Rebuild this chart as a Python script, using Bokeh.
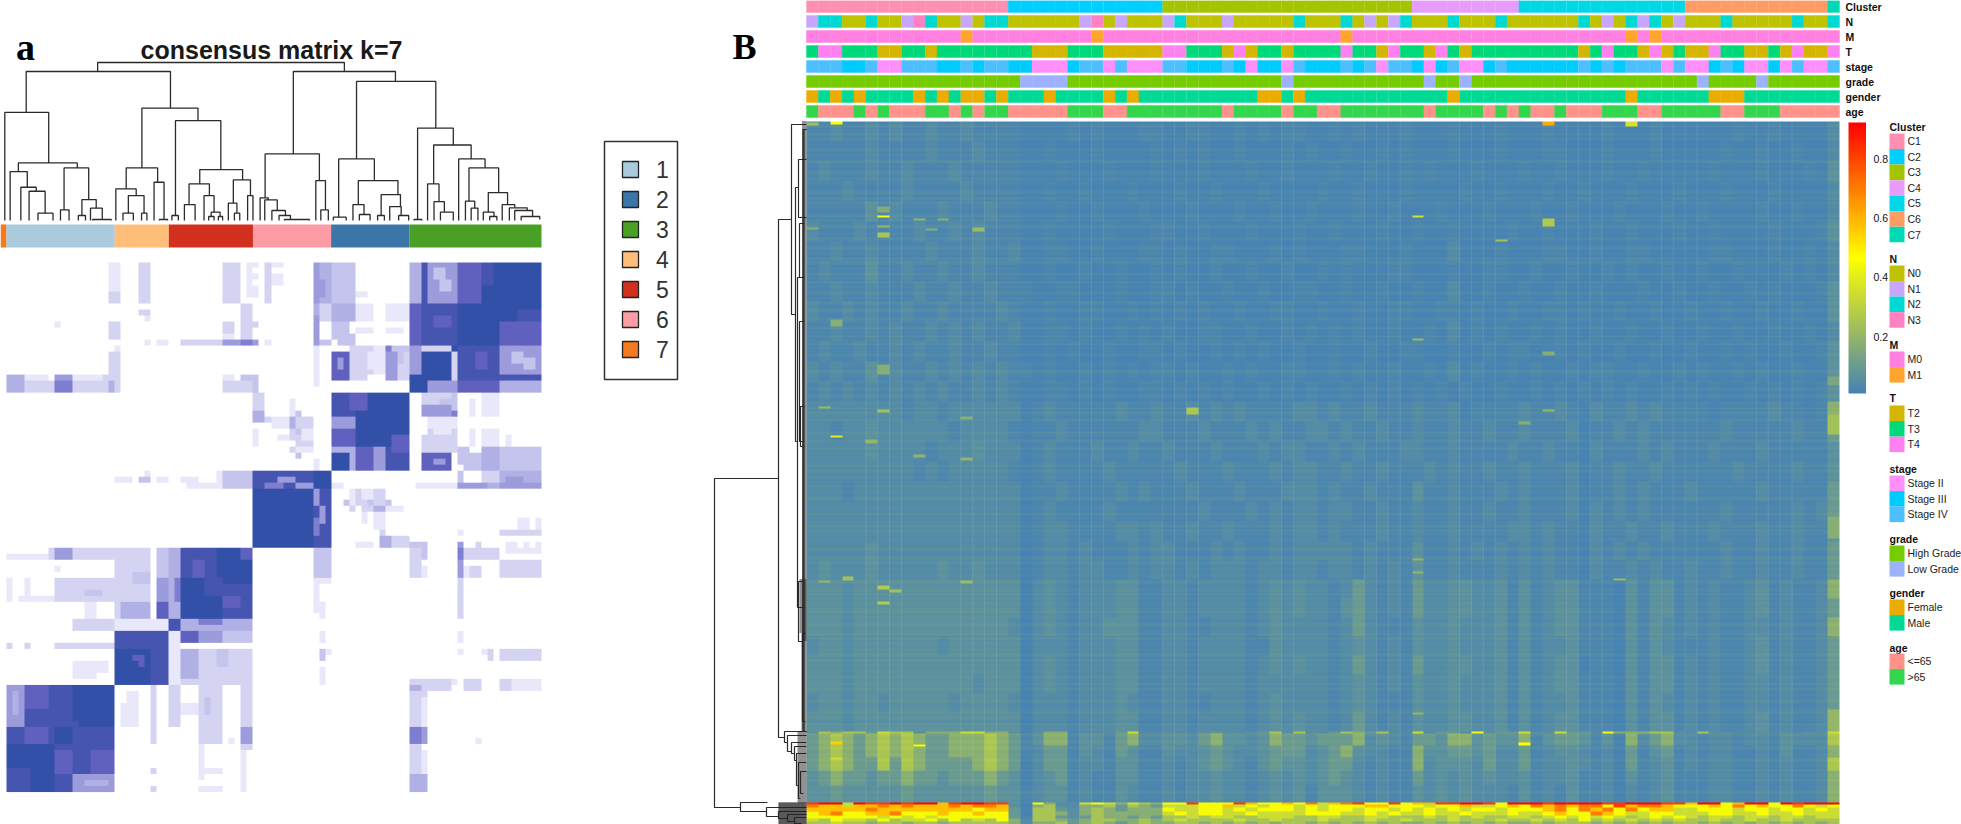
import numpy as np
from bokeh.plotting import figure
from bokeh.models import Range1d, LinearColorMapper
from bokeh.core.properties import value
from bokeh.embed import file_html
from bokeh.resources import INLINE

W, H = 1961, 824
SANS, SERIF = "Liberation Sans", "Liberation Serif"

# ---------------- panel a data ----------------
cluster_ids = ["7", "1", "4", "5", "6", "2", "3"]
cluster_sizes = [1, 18, 9, 14, 13, 13, 22]
cluster_colors = ["#F47A1F", "#A9CBDD", "#FEBE7A", "#D1301F", "#FD9CA5", "#3B76A9", "#4AA025"]
legend_a_labels = ["1", "2", "3", "4", "5", "6", "7"]
legend_a_colors = ["#A9CBDD", "#3B76A9", "#4AA025", "#FEBE7A", "#D1301F", "#FD9CA5", "#F47A1F"]
consensus_palette = ["#FFFFFF", "#E8E8FA", "#D4D4F2", "#C4C4EC", "#B0B0E4", "#9C9CDC", "#7E7ED0", "#6060BE", "#4656B0", "#3350A8"]

# (col0, col1, row0, row1, level 0-9); row 0 is the top row, mirrored across the block diagonal
consensus_patches = [
    (68,90,0,22,9),(55,68,22,35,9),(42,55,35,48,9),(28,42,48,62,8),(19,28,62,71,9),(1,19,71,89,8),
    # block 3
    (76,80,0,14,8),(78,80,0,7,7),(76,80,7,14,9),(83,90,10,14,7),(86,90,8,10,8),
    (71,76,0,7,3),(72,75,1,2,5),(73,75,4,5,7),(72,73,3,6,5),(70,71,0,7,8),(68,70,0,7,4),
    (68,76,7,10,7),(68,76,10,14,8),(70,72,8,9,6),(68,70,14,19,4),(70,76,14,20,9),(75,76,15,20,2),
    (76,83,14,20,8),(79,81,15,18,7),(83,90,14,19,5),(85,87,15,17,3),(87,89,16,18,3),(83,90,19,20,8),
    (76,83,20,22,7),(70,76,20,22,5),(83,90,20,22,4),(68,70,19,22,9),
    # block 2
    (55,58,22,26,7),(55,57,27,30,5),(57,58,26,27,7),(55,58,30,31,4),(55,58,31,35,9),(58,59,31,35,4),
    (59,62,31,35,7),(62,64,31,35,5),(64,68,31,35,8),(58,61,22,25,7),
    # block 6
    (42,44,35,38,5),(44,52,35,38,7),(46,50,36,37,5),(52,55,38,48,8),(52,53,38,41,5),(52,53,43,46,6),(53,54,41,44,5),
    # block 5
    (37,42,48,50,7),(30,37,48,56,8),(37,42,50,54,9),(30,37,56,60,9),(30,42,60,62,4),(33,37,60,61,6),(32,34,50,53,7),
    # block 4
    (25,26,65,71,6),(19,25,62,65,8),(25,28,62,65,8),(22,24,66,67,7),
    # block 1
    (1,2,71,73,6),(2,4,71,76,5),(4,9,71,75,7),(9,12,73,77,7),(12,19,77,82,8),(12,19,71,77,9),
    (9,12,78,81,9),(1,9,81,85,9),(12,19,86,89,5),(14,18,87,88,4),(5,8,79,80,6),(9,12,82,86,7),
    # pale columns beside block 3
    (19,20,0,2,1),(19,20,3,6,1),(23,25,0,7,2),(37,39,0,7,2),(39,40,0,7,1),(42,43,0,1,1),(42,43,2,3,1),(42,43,4,6,1),
    (44,45,0,7,2),(45,47,0,1,1),(45,47,2,4,1),(52,53,0,7,6),(53,55,0,3,4),(53,55,3,7,3),(55,58,0,3,3),(55,58,3,7,3),(56,57,1,2,5),
    (52,53,7,10,2),(55,58,7,10,5),(56,58,9,10,7),(59,62,7,10,1),(64,68,7,10,1),(64,65,9,10,2),(23,25,8,9,2),(24,25,9,10,1),
    (9,10,10,11,1),(19,20,10,12,1),(37,39,10,12,2),(37,39,12,14,1),(40,43,10,11,2),(41,42,12,13,2),(52,53,10,13,2),
    (55,58,10,13,3),(59,62,11,12,1),(64,67,11,12,1),
    (24,25,13,14,1),(26,28,13,14,1),(30,31,13,14,4),(31,37,13,14,2),(37,39,13,14,7),(39,43,13,14,5),(44,45,13,14,1),(52,55,13,14,3),
    (19,20,14,20,1),(52,53,14,19,1),(52,53,18,19,2),(58,62,14,19,2),(60,61,16,18,1),(62,64,14,19,1),(64,65,14,19,6),(65,68,14,19,3),(65,68,16,17,4),
    (1,4,19,22,4),(4,8,19,22,1),(7,8,20,21,2),(9,12,19,22,5),(9,10,20,21,7),(12,17,19,22,1),(17,20,19,22,2),(37,39,19,22,1),(40,43,19,22,3),(52,53,20,21,1),
    # beside block 2
    (70,75,22,24,2),(73,75,23,24,3),(70,75,24,26,5),(72,75,27,29,1),(70,75,29,33,2),(70,75,32,35,7),(72,74,33,34,5),(76,78,31,34,3),(80,83,22,26,1),(80,83,31,35,4),(83,90,31,34,3),
    (80,83,29,31,1),(78,79,24,26,1),(84,85,29,31,1),
    (42,44,22,25,2),(42,44,25,27,4),(44,52,26,27,2),(49,50,25,33,3),(50,52,26,27,2),(46,49,29,30,1),(42,43,28,31,1),(49,52,29,31,2),(52,53,33,35,1),
    # beside block 6
    (76,77,35,38,3),(80,83,35,38,2),(83,90,35,37,4),(76,90,37,38,5),(70,76,37,38,1),(84,87,36,37,5),(81,83,37,38,4),
    (19,22,36,37,1),(23,25,36,37,3),(24,25,35,36,1),(26,28,36,37,1),(30,33,36,37,2),(37,40,36,37,4),(37,40,35,36,2),(37,40,37,38,1),
    (58,59,38,41,1),(60,62,38,40,1),(62,64,38,42,2),(58,59,41,42,2),(60,62,41,42,2),(62,64,41,42,4),(64,66,41,42,1),(66,67,41,42,1),(62,64,42,45,1),
    # beside block 5
    (68,70,48,53,2),(76,77,48,50,6),(76,77,50,53,5),(76,77,53,60,2),(77,83,48,50,2),(83,90,50,53,2),(84,90,48,49,1),
    (52,55,48,53,3),(53,55,53,54,1),(52,53,53,59,1),(53,54,57,60,1),
    # cluster 5 with 4
    (30,33,62,64,7),(33,37,62,64,5),(37,42,62,64,3),(30,33,65,70,4),(33,42,65,70,2),(30,42,70,71,2),(36,38,65,68,3),(28,30,62,71,1),
    # cluster 1 with 5
    (9,19,48,49,2),(9,12,49,50,3),(14,17,48,50,3),(1,3,49,50,1),(4,9,49,50,1),(9,10,51,52,1),
    (9,19,53,55,3),(12,17,54,57,3),(4,19,56,57,2),(9,12,55,57,4),(1,2,53,57,1),(4,5,53,57,1),(14,16,57,60,1),(12,19,60,62,2),
    (9,19,64,65,3),(13,15,64,65,5),(12,16,67,70,1),(1,2,64,65,2),(4,5,64,65,2),
    # cluster 1 with 4 and 5
    (25,26,71,81,2),(28,30,71,78,2),(33,37,71,81,2),(34,35,73,76,3),(40,42,71,82,2),(40,42,78,81,5),(21,23,72,78,1),(33,34,81,87,1),(40,41,84,88,1),
    # cluster 1 with 2
    (68,70,70,88,2),(68,70,71,72,4),(68,70,78,81,6),(68,70,86,89,4),(70,75,70,72,2),(77,80,70,72,2),(83,85,70,72,2),(85,90,70,72,1),(79,80,80,81,1),
]

# each (left, right, top, left leg end, right leg end), in dendrogram units
dend_a = [
    (272,963,475,448,448),(72,476,448,325,338),(12,135,325,0,173),(50,215,173,147,158),(27,75,147,0,100),
    (57,100,100,0,88),(80,125,88,0,22),(105,147,22,0,0),(178,247,158,32,63),(168,192,32,0,0),(228,268,63,15,37),
    (218,238,15,0,0),(252,285,37,0,3),(258,310,3,0,0),
    (396,553,338,158,300),(352,440,158,95,115),(323,380,95,0,75),(358,402,75,22,22),(343,372,22,0,0),(395,410,22,0,0),
    (430,458,115,0,3),(445,468,3,0,0),(490,617,300,15,153),(480,498,15,0,0),(558,678,153,110,122),(528,585,110,48,75),
    (515,545,48,0,0),(570,598,75,0,25),(590,615,25,12,12),(583,598,12,0,0),(610,622,12,0,0),(652,700,122,52,75),(638,662,52,0,22),
    (655,670,22,0,0),(692,707,75,0,0),
    (820,1106,448,200,418),(741,893,200,68,120),(727,750,68,0,62),(740,775,62,0,30),(760,798,30,0,15),(780,812,15,0,3),(795,865,3,0,0),
    (883,910,120,0,32),(897,918,32,0,0),(997,1219,418,185,278),(947,1047,185,10,120),(932,968,10,0,0),
    (1002,1113,120,48,78),(987,1018,48,0,18),(1005,1035,18,0,0),(1066,1120,78,15,42),(1056,1075,15,0,0),(1090,1122,42,0,15),(1115,1143,15,0,0),
    (1168,1268,278,3,227),(1158,1180,3,0,0),(1213,1318,227,110,185),(1196,1228,110,0,57),(1214,1243,57,0,25),(1232,1268,25,0,0),
    (1283,1357,185,0,158),(1312,1395,158,58,84),(1302,1328,58,0,37),(1318,1337,37,0,0),(1366,1420,84,25,48),(1352,1382,25,0,12),(1370,1390,12,0,0),
    (1405,1440,48,0,38),(1425,1475,38,0,30),(1440,1490,30,0,12),(1458,1510,12,0,3),
]

# ---------------- panel B data ----------------
cluster_b_levels = ["C1", "C2", "C3", "C4", "C5", "C6", "C7"]
cluster_b_sizes = [17, 13, 21, 9, 14, 12, 1]
cluster_b_colors = ["#FF8FB1", "#00CFFF", "#A3C400", "#E79CFB", "#00D8E8", "#FF9C63", "#00D9B5"]
n_levels, n_colors = ["N0", "N1", "N2", "N3"], ["#BFC200", "#C7A6FB", "#00D8D2", "#FF80C3"]
m_levels, m_colors = ["M0", "M1"], ["#FF80E0", "#FFA52E"]
t_levels, t_colors = ["T2", "T3", "T4"], ["#D4B500", "#00D979", "#FF80F0"]
stage_levels, stage_colors = ["Stage II", "Stage III", "Stage IV"], ["#FF8FFA", "#00CBFF", "#4DBFFF"]
grade_levels, grade_colors = ["High Grade", "Low Grade"], ["#75CC00", "#9CB2FF"]
gender_levels, gender_colors = ["Female", "Male"], ["#EBAC00", "#00DA95"]
age_levels, age_colors = ["<=65", ">65"], ["#FF928A", "#33D64D"]

n_codes = "1 22 00 2 00 1 3 2 00 1 0 22 000000 1 3 0 1 000 1 2 000 1 00000 2 000 2 0 1 0 1 2 000 2 000 2 000000 2 0 1 0 2 1 2 0 1 000 2 00000 2 00 2"
m_codes = "0000000000000 1 0000000000 1 00000000000000000000 1 00000000000000000000000 1 0 1 000000000000000"
t_codes = "1 22 111 00 11 0 11111111 000 111 00000 22 111 0 2 0 11 0 1111 2 11 0 2 11 0 2 1 0 111111111 0 1 2 11 0 2 0 1 00 2 11 00 1 0 2 00 2"
stage_codes = "222 11 2 00 222 11 2 1 22 11 000 1 22 0 2 000 22 111 2 1 0 11 0 2 111 2 1 2 0 22 1 0 1 2 00 1 2 111111 2 1 2 1 222 0 2 00 1 2 1 00 1 0 2 00 2"
grade_codes = "000000000000000000 1111 000000000000000000 1 00000000000 1 00 1 0000000000000000000 1 0000 1 000000"
gender_codes = "0 1 0 1 0 1111 0 1 0 1 00 1 0 111 0 1111 0 1 0 1111111111 00 1 0 111111111111 0 11111111111111 0 111111 000 11111111"
age_codes = "1 000 1 0 1 000 11 0 1 0 11 00000 111 00 11111111 0 1111 0 11 00 1111111 0 1111 0 1 0 1 00 1 000 111 00 11111 00 111 00000"
annotation_rows = ["Cluster", "N", "M", "T", "stage", "grade", "gender", "age"]

level_values = dict(zip("0123456789abc", [.008, .02, .036, .056, .09, .17, .25, .34, .45, .58, .70, .82, .92]))

heat_blue_bands = [
 "11211212112112111 1000010100011 001100101011001010001 000100010 00100001000100 000010010000 2",
 "11111211112111211 1001000100001 010100100010100100101 000100010 00110001000100 000100100100 2",
 "12111211211121111 1000100010001 000100010010001001001 010001000 10010001001000 001000100010 3",
 "11121111211112111 1001001000100 010010001000010010001 000010010 00100100010001 000100010000 2",
 "11111312111211121 1000100100010 001000100100100010010 001000100 01001000100010 010000100100 2",
 "21112111121121211 1001000010001 100100010001001000100 100100001 00100010010001 001000010001 3",
 "11211211112111211 2001100100011 010011000101000110001 000200010 00110010011000 001100010010 2",
 "12111311211211211 1001001001001 010010010010010100011 000100110 01001001010010 010010001010 2",
 "11211211121121121 1100110001001 101001001001100100100 100200100 10010010001001 001001010001 3",
 "21121211211211112 1001001100101 010100100110010010011 001101001 00110100100100 100100100100 3",
 "11211212112121211 2001101001010 100110010010101010010 010201010 01010010010010 010010010010 2",
 "12112112121121121 1001010010011 010010101001001001001 100100101 10010100100100 100101001001 3",
 "21211312112121212 1101001010101 101001010011001010010 010201001 01001011001001 010010100100 3",
 "12121212121211212 1001101010011 010101001010100101010 101010010 01010101010010 101001010101 3",
 "22222222122122222 2012111112112 112121211112212112111 211201111 21121021121211 110111121101 5",
 "22122322222212222 1011211111122 111211121211221211211 211211211 21112011212111 111211111211 4",
 "22222322221222322 2012111211211 211121112122112121112 211211112 11211021112121 112111211111 3",
 "22222222212122222 1012111121111 121112111212211211211 121211211 21112011211211 111121111211 3",
 "22212222222222222 2011211112121 112111211122212112111 311211121 21112011212111 211111211111 4",
 "22222222222222222 2012111121111 111211121212212211211 211211211 21112021212111 111211111212 4",
 "22222222222222222 2012211112212 112112111212212111211 211211112 21211021121121 112111211211 3",
 "22222322222222222 2012212111212 211121211212222212111 311212121 21211021212111 111211211211 4",
 "23222322222322322 2012212211212 212122212212212212121 311211121 21211021121211 211211211211 4",
 "33323333333333333 3023212223311 221222212323221242121 422332231 31233111031331 212112312112 5",
 "33323333333333333 3023212223311 221222212323221342121 422332231 31233111031331 212112312112 4",
 "33323333333333333 2023212233311 221122212322221242111 322322231 31233111031321 212112212112 5",
 "23323333333233333 3022212223311 221222211322221232121 322322231 31223111031321 112112312112 4",
 "33323333333333333 3023212223311 221222212323221242121 422332231 31233011031331 212112312112 4",
 "33323333333333233 3023212223311 221222212222221232121 322322231 31233111031331 212112212112 4",
 "23323323333323333 2022212223211 221122212322221232111 322322231 31223111031321 212112212112 4",
 "33323333333333333 3022212223311 221222212323221242121 322332231 31233111031331 212112312112 5",
]
heat_yellow_bands = [
 "36566476635557755 3035512234722 322343234636324654622 724428344 73374428555663 263322323233 7",
 "45654565654455565 4135513314522 332453323544344452321 443553433 51344313052452 212212213222 6",
 "45654565654455565 4124413214311 322343223444234532211 533443422 41233212041341 212211213112 5",
 "45654464654444565 4024412213311 212343213433234421211 523332422 41223212041231 212211212112 6",
 "34544344544344454 3023412113311 212232212323234321211 423232322 31223112031231 112211212112 5",
 "33433333433333343 3123312113211 212232212323133321211 323232221 31213112021231 112211212112 5",
]
heat_yellow_heights = [2, 12, 12, 13, 15, 17]
heat_hot_bands = [
 "bcc7cbbcbcc9bccbb 3085227875765 88b888b98898a79ab88b8 99bbccb8c ccbccccbbcccbb 9cc89cc8cbcc c",
 "a99799a9a999a9aa9 3056325564654 777889787887878889988 878897789 8a9a9aa8b9aa98 8898a8988a87 8",
 "99999a99999999899 4166435654555 877887878887878878878 787878878 889a8a9a8a8997 788878878878 7",
 "89a8899a888988988 4066535655555 787887787777888778787 787787778 778988a9877887 778877877877 7",
 "88888878787888888 4166434655454 667677667776677667766 676767667 76787878767878 767767767767 7",
 "76877686778686768 5266545665565 676666766766676667667 666766676 67676867676767 667667667666 6",
 "66766566566566666 5255645654565 566565656566565656565 565656565 56566656565656 656565656565 6",
]
heat_hot_heights = [2, 3, 4, 4, 3, 3, 3]

# per two rows, added across a whole row
heat_row_stripes = (
 "0120112021010120110220101210211100121020211100120201210110210012011021210101201020110210"
 "1021012100211012010201120100210011102211011102101200110202101201010211021012001100112021"
 "0110102011012100110120101120211011010210012021011011012001102010110112011012101120201101"
 "1021020110110210120210110210011201100201102101201200101201102011020010120110112001"
)
heat_row_stripe_values = [0, .012, .026, .042]

# (row0, row1, col, value)
heat_spots = [
 (0,3,2,.46),(1,4,0,.24),(0,4,62,.62),(0,5,69,.36),(85,91,6,.16),(94,96,6,.46),(104,106,6,.2),(111,116,6,.25),(106,110,14,.22),
 (97,99,9,.2),(97,99,11,.17),(107,109,10,.17),(106,108,0,.17),(198,205,2,.17),(243,253,6,.17),(288,291,6,.24),(285,287,1,.22),
 (286,293,32,.26),(314,316,2,.4),(318,322,5,.2),(295,298,13,.18),(336,339,13,.2),(333,336,9,.19),(455,459,3,.24),(459,461,1,.2),
 (464,468,6,.27),(468,471,7,.24),(480,483,6,.27),(459,462,13,.22),(620,623,2,.55),(623,625,9,.45),(636,638,2,.35),
 (94,96,51,.36),(97,105,62,.27),(118,120,58,.24),(217,219,51,.22),(230,234,62,.17),(437,439,51,.2),(450,452,51,.2),(457,459,68,.22),
 (591,593,51,.2),(621,624,60,.46),(293,313,86,.24),(588,610,86,.2),(395,417,86,.17),(255,264,86,.14),(288,290,62,.2),(300,303,60,.17),
]
heat_col_gutters = [5,6,7,8,13,14,15,16,23,24,25,30,31,32,33,40,41,47,48,49,50,55,56,57,58,64,65,66,67,72,73,74,75,80,81,82,83]
heat_ticks = [0.2, 0.4, 0.6, 0.8]

# row dendrogram: (top row, bottom row, height, top leg end, bottom leg end)
dend_b = [
 (357,686,92,28,66),(98,616,28,15,22),(3,193,15,0,11),(66,320,11,8,9),(38,96,8,0,0),(156,486,9,7,2),(102,156,7,2,2),
 (610,621,22,0,19),(614,630,19,0,15),(621,632,15,0,12),(625,639,12,0,10),(632,664,10,0,8),(641,677,8,0,6),(650,672,6,0,3),
 (681,690,66,39,40),(686,695,40,0,28),(690,697,28,0,19),(693,700,19,0,12),(696,702,12,0,5),
 (200,320,7,2,2),(285,325,6,2,2),(460,520,8,3,3),(512,600,4,1,1),(8,610,2.5,0,0),(8,610,3.5,0,0),
]
comb_regions = [(0, 520, 4.5, 2), (458, 512, 7, 2), (512, 610, 5, 2), (610, 681, 9, 2), (681, 703, 28, 1)]

# ---------------- figure and its scales ----------------
p = figure(width=W, height=H, x_range=Range1d(0, W), y_range=Range1d(H, 0), toolbar_location=None,
           output_backend="svg", min_border=0, outline_line_color=None,
           x_axis_location=None, y_axis_location=None, background_fill_color="white", border_fill_color="white")
p.grid.visible = False

def add_x(name, p0, p1, v0, v1):
    s = (v1 - v0) / (p1 - p0)
    p.extra_x_ranges[name] = Range1d(start=v0 - p0 * s, end=v0 + (W - p0) * s)

def add_y(name, ptop, pbot, vtop, vbot):
    s = (vbot - vtop) / (pbot - ptop)
    p.extra_y_ranges[name] = Range1d(start=vtop + (H - ptop) * s, end=vtop - ptop * s)

XA0, XA1 = 0, 541
add_x("cons_x", XA0, XA1, 0, 90)
add_y("cons_y", 262, 262 + 90 * 5.95, 90, 0)
add_x("dend_x", XA0, XA1, 0, 1515)
add_y("dend_y", 62, 220, 475, 0)
HX0, HX1, HY0, HY1 = 806, 1839, 121, 824
add_x("heat_x", HX0, HX1, 0, 87)
add_y("heat_y", HY0, HY1, 703, 0)
add_y("row_y", HY0, HY1, 0, 703)
add_x("row_h", HX0, HX0 - 92, 0, 92)
add_y("bar_y", 122, 393, 0.925, 0.007)

def txt(x, y, s, size, bold=False, font=SANS, align="left", color="#111111", **kw):
    p.text(x=[x], y=[y], text=[s], text_font=value(font), text_font_size=value(f"{size}px"),
           text_font_style="bold" if bold else "normal", text_align=align, text_baseline="middle",
           text_color=color, **kw)

# ---------------- panel a ----------------
M = np.zeros((90, 90))
for c0, c1, r0, r1, lv in consensus_patches:
    for r in range(r0, r1):
        for c in range(c0, c1):
            M[r, c] = lv
            M[89 - c, 89 - r] = lv
cmap_a = LinearColorMapper(palette=consensus_palette, low=-0.5, high=9.5)
p.image(image=[M[:89][::-1]], x=0, y=1, dw=90, dh=89, color_mapper=cmap_a, x_range_name="cons_x", y_range_name="cons_y")

edges = np.concatenate([[0], np.cumsum(cluster_sizes)])
p.quad(left=edges[:-1], right=edges[1:], top=247, bottom=224, fill_color=cluster_colors, line_color=None, x_range_name="cons_x")

xs, ys = [], []
for xl, xr, top, hl, hr in dend_a:
    xs.append([xl, xl, xr, xr]); ys.append([hl, top, top, hr])
p.multi_line(xs, ys, line_color="#2b2b2b", line_width=1.3, x_range_name="dend_x", y_range_name="dend_y")

txt(25, 46, "a", 38, True, SERIF, "center", "#000000")
txt(271, 49, "consensus matrix k=7", 25, True, SANS, "center", "#1a1a1a")

p.quad(left=[604], right=[677], top=[141], bottom=[379], fill_color="white", line_color="#333333", line_width=1.5)
for i, (lab, col) in enumerate(zip(legend_a_labels, legend_a_colors)):
    yc = 169 + i * 30
    p.quad(left=[622], right=[638], top=[yc - 8], bottom=[yc + 8], fill_color=col, line_color="#222222", line_width=1.3)
    txt(662, yc, lab, 23, False, SANS, "center", "#333333")

# ---------------- panel B: annotations ----------------
def codes(s):
    return [int(c) for c in s.replace(" ", "")][:87]

rows = [
    (np.repeat(np.arange(7), cluster_b_sizes).tolist(), cluster_b_colors),
    (codes(n_codes), n_colors), (codes(m_codes), m_colors), (codes(t_codes), t_colors),
    (codes(stage_codes), stage_colors), (codes(grade_codes), grade_colors),
    (codes(gender_codes), gender_colors), (codes(age_codes), age_colors),
]
for k, (cc, cols) in enumerate(rows):
    idx = np.arange(len(cc))
    p.quad(left=idx, right=idx + 1, top=k * 15, bottom=k * 15 + 12, fill_color=[cols[c] for c in cc],
           line_color=[cols[c] for c in cc], line_width=0.4, x_range_name="heat_x")
    txt(1845, k * 15 + 6, annotation_rows[k], 10.5, True)
p.segment(x0=heat_col_gutters, x1=heat_col_gutters, y0=0, y1=117, line_color="white", line_alpha=.1, line_width=1, x_range_name="heat_x")

# ---------------- panel B: heat map ----------------
def band_vals(s):
    s = s.replace(" ", "")
    s = (s + s[-1] * 87)[:87]
    return [level_values[c] for c in s]

A = np.zeros((703, 87))
chunks = np.array_split(np.arange(610), len(heat_blue_bands))
for ch, b in zip(chunks, heat_blue_bands):
    A[ch] = band_vals(b)
r = 610
for b, h in zip(heat_yellow_bands + heat_hot_bands, heat_yellow_heights + heat_hot_heights):
    A[r:r + h] = band_vals(b)
    r += h
for i, c in enumerate(heat_row_stripes):
    if 2 * i < 681:
        A[2 * i:2 * i + 2] += heat_row_stripe_values[int(c)]
for r0, r1, c, v in heat_spots:
    A[r0:r1, c] = v

def ramp(n):
    stops = [(0x46, 0x82, 0xB4), (255, 255, 0), (255, 0, 0)]
    out = []
    for i in range(n):
        t = i / (n - 1) * 2
        j = min(int(t), 1)
        f = t - j
        out.append("#%02X%02X%02X" % tuple(int(round(a + (b - a) * f)) for a, b in zip(stops[j], stops[j + 1])))
    return out

cmap_b = LinearColorMapper(palette=ramp(256), low=0.007, high=0.925)
p.image(image=[A[::-1]], x=0, y=0, dw=87, dh=703, color_mapper=cmap_b, x_range_name="heat_x", y_range_name="heat_y")
p.segment(x0=heat_col_gutters, x1=heat_col_gutters, y0=0, y1=703, line_color="white", line_alpha=.1, line_width=1,
          x_range_name="heat_x", y_range_name="heat_y")

# row dendrogram
xs, ys = [], []
for rt, rb, h, ht, hb in dend_b:
    xs.append([ht, h, h, hb]); ys.append([rt, rt, rb, rb])
p.multi_line(xs, ys, line_color="#2b2b2b", line_width=1.2, x_range_name="row_h", y_range_name="row_y")
cx0, cx1, cy = [], [], []
for r0, r1, ln, st in comb_regions:
    for r in range(r0, r1, st):
        cx0.append(0); cx1.append(ln); cy.append(r + .5)
p.segment(x0=cx0, x1=cx1, y0=cy, y1=cy, line_color="#222222", line_width=1, x_range_name="row_h", y_range_name="row_y")

txt(744, 46, "B", 36, True, SERIF, "center", "#000000")

# colour bar
grad = np.linspace(0.007, 0.925, 256).reshape(-1, 1)
p.image(image=[grad], x=1848, y=0.007, dw=17.5, dh=0.918, color_mapper=cmap_b, y_range_name="bar_y")
for t in heat_ticks:
    txt(1873, t, f"{t:.1f}", 10.5, y_range_name="bar_y")

# legends
legends = [
    ("Cluster", 126, 133, cluster_b_levels, cluster_b_colors),
    ("N", 258, 265, n_levels, n_colors),
    ("M", 344, 351, m_levels, m_colors),
    ("T", 397, 405, t_levels, t_colors),
    ("stage", 468, 475, stage_levels, stage_colors),
    ("grade", 538, 545, grade_levels, grade_colors),
    ("gender", 592, 599, gender_levels, gender_colors),
    ("age", 647, 653, age_levels, age_colors),
]
for title, ty, sy, labs, cols in legends:
    txt(1889, ty, title, 10.5, True)
    for i, (lab, col) in enumerate(zip(labs, cols)):
        p.quad(left=[1889], right=[1904], top=[sy + i * 15.55], bottom=[sy + (i + 1) * 15.55], fill_color=col, line_color=None)
        txt(1907, sy + (i + .5) * 15.55, lab, 10.5, color="#222222")

open("out.html", "w").write(file_html(p, INLINE))
